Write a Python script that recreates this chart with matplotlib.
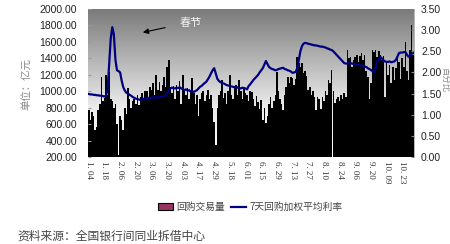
import matplotlib
matplotlib.use("Agg")
import matplotlib.pyplot as plt
import numpy as np
from matplotlib.patches import Patch
from matplotlib.lines import Line2D
from matplotlib.colors import LinearSegmentedColormap

# ---- data ----
tick_labels = ["1. 04", "1. 18", "2. 06", "2. 20", "3. 06", "3. 20", "4. 03", "4. 17", "4. 29",
               "5. 18", "6. 01", "6. 15", "6. 29", "7. 13", "7. 27", "8. 10", "8. 24", "9. 06",
               "9. 20", "10. 09", "10. 23"]

volume = [
    770, 650, 750, 700, 530, 560, 770, 850, 1170, 880,
    920, 1200, 950, 1230, 900, 880, 800, 850, 600, 220,
    700, 650, 530, 800, 720, 1040, 900, 800, 880, 900,
    850, 950, 830, 930, 980, 900, 1000, 1000, 930, 1050,
    1010, 1100, 950, 1200, 1020, 1110, 1000, 1080, 1170, 1050,
    1300, 1380, 1050, 980, 1060, 900, 1080, 1000, 1120, 850,
    1200, 1000, 950, 1040, 900, 1010, 1160, 980, 850, 950,
    700, 900, 980, 1000, 880, 950, 1020, 900, 960, 800,
    620, 350, 800, 950, 1000, 1140, 920, 980, 850, 1000,
    1200, 950, 900, 1050, 1080, 950, 1140, 1000, 900, 1050,
    980, 950, 880, 1000, 990, 900, 820, 940, 870, 780,
    890, 650, 800, 610, 700, 850, 930, 800, 880, 950,
    1230, 1000, 900, 850, 770, 950, 1050, 1170, 1100, 1170,
    1160, 1080, 1150, 1420, 1340, 1300, 1340, 1220, 1250, 1180,
    1015, 1050, 950, 1000, 930, 770, 930, 900, 780, 930,
    880, 1000, 950, 1140, 1100, 1260, 1000, 860, 900, 930,
    880, 950, 900, 980, 930, 1500, 1400, 1420, 1300, 1380,
    1420, 1440, 1350, 1430, 1465, 1380, 1440, 1250, 1170, 900,
    1100, 1500, 1480, 1500, 1420, 1490, 1440, 1380, 1430, 930,
    1340, 1200, 1320, 1100, 1290, 1140, 1280, 1400, 1350, 1150,
    1400, 1300, 1600, 1250, 1140, 1500, 1800, 1440,
]

rate = [
    1.49, 1.48, 1.48, 1.47, 1.47, 1.46, 1.46, 1.45, 1.45, 1.44,
    1.43, 1.45, 1.60, 2.20, 2.80, 3.07, 2.90, 2.30, 2.05, 2.03,
    2.00, 1.80, 1.65, 1.57, 1.52, 1.50, 1.47, 1.45, 1.42, 1.40,
    1.38, 1.37, 1.36, 1.35, 1.37, 1.38, 1.36, 1.38, 1.40, 1.39,
    1.41, 1.40, 1.42, 1.41, 1.40, 1.42, 1.43, 1.42, 1.44, 1.45,
    1.52, 1.58, 1.62, 1.64, 1.63, 1.62, 1.64, 1.63, 1.65, 1.62,
    1.60, 1.58, 1.60, 1.57, 1.58, 1.55, 1.55, 1.54, 1.56, 1.58,
    1.62, 1.66, 1.68, 1.72, 1.75, 1.78, 1.84, 1.90, 1.98, 2.05,
    2.10, 1.98, 1.85, 1.80, 1.77, 1.75, 1.74, 1.72, 1.70, 1.69,
    1.68, 1.67, 1.66, 1.65, 1.66, 1.64, 1.63, 1.62, 1.64, 1.63,
    1.62, 1.60, 1.68, 1.72, 1.77, 1.82, 1.86, 1.90, 1.94, 2.00,
    2.05, 2.10, 2.18, 2.27, 2.20, 2.13, 2.10, 2.08, 2.07, 2.05,
    2.06, 2.08, 2.09, 2.10, 2.11, 2.08, 2.07, 2.05, 2.04, 2.02,
    1.99, 2.00, 2.01, 2.10, 2.29, 2.50, 2.62, 2.68, 2.70, 2.69,
    2.68, 2.67, 2.66, 2.65, 2.64, 2.64, 2.63, 2.62, 2.61, 2.61,
    2.60, 2.59, 2.57, 2.56, 2.54, 2.53, 2.50, 2.46, 2.42, 2.38,
    2.34, 2.30, 2.26, 2.22, 2.21, 2.21, 2.22, 2.22, 2.21, 2.20,
    2.19, 2.18, 2.18, 2.17, 2.16, 2.15, 2.14, 2.13, 2.10, 2.08,
    2.06, 2.03, 2.01, 2.10, 2.25, 2.32, 2.37, 2.33, 2.29, 2.26,
    2.25, 2.25, 2.26, 2.24, 2.25, 2.26, 2.30, 2.38, 2.46, 2.47,
    2.47, 2.48, 2.48, 2.42, 2.37, 2.40, 2.44, 2.46,
]

left_ticks = [200, 400, 600, 800, 1000, 1200, 1400, 1600, 1800, 2000]
right_ticks = [0.0, 0.5, 1.0, 1.5, 2.0, 2.5, 3.0, 3.5]

# ---- figure ----
cjk = ["Noto Sans CJK SC", "DejaVu Sans"]
fig = plt.figure(figsize=(4.5, 2.44), dpi=100)
fig.patch.set_facecolor("white")
ax = fig.add_axes([88 / 450, 1 - 157 / 244, 326 / 450, 148 / 244])

n = len(volume)
x = np.arange(n)

# gradient background: dark grey at top -> white at bottom
cmap = LinearSegmentedColormap.from_list("g", ["#7a7a7a", "#b4b4b4", "#ececec", "#ffffff"])
grad = np.linspace(0, 1, 256).reshape(-1, 1)
ax.imshow(grad, extent=[0, 1, 0, 1], transform=ax.transAxes, cmap=cmap,
          aspect="auto", zorder=0, vmin=0, vmax=1, origin="upper")

ax.bar(x, np.array(volume) - 200, bottom=200, width=1.0, color="black",
       edgecolor="none", zorder=1)
ax.set_xlim(-0.5, n - 0.5)
ax.set_ylim(200, 2000)
ax.set_yticks(left_ticks)
ax.set_yticklabels([f"{v:.2f}" for v in left_ticks], family="Liberation Sans",
                   fontsize=7.5, color="#222222")
ax.set_xticks(np.arange(0, 10 * len(tick_labels), 10))
ax.set_xticklabels(tick_labels, rotation=270, family="Liberation Serif",
                   fontsize=6.5, color="#333333")
ax.tick_params(axis="x", length=0, pad=3)
ax.tick_params(axis="y", direction="in", length=2, pad=8, color="#999999")
for s in ["top", "bottom", "left", "right"]:
    ax.spines[s].set_visible(False)

ax2 = ax.twinx()
ax2.plot(x, rate, color="#000080", linewidth=1.6, zorder=3)
ax2.set_ylim(0, 3.5)
ax2.set_yticks(right_ticks)
ax2.set_yticklabels([f"{v:.2f}" for v in right_ticks], family="Liberation Sans",
                    fontsize=7.5, color="#222222")
ax2.tick_params(axis="y", direction="in", length=2, pad=5, color="#888888")
for s in ["top", "bottom", "left"]:
    ax2.spines[s].set_visible(False)
ax2.spines["right"].set_color("#aaaaaa")
ax2.spines["right"].set_linewidth(0.6)

# axis titles
fig.text(27 / 450, 1 - 84 / 244, "单位：亿元", rotation=90, ha="center", va="center",
         family=cjk, fontsize=7.5, color="#888888")
fig.text(445 / 450, 1 - 80 / 244, "百分比", rotation=270, ha="center", va="center",
         family=cjk, fontsize=6, color="#888888")

# annotation
ax.annotate("", xy=(0.160, 0.838), xytext=(0.245, 0.878), xycoords="axes fraction",
            textcoords="axes fraction",
            arrowprops=dict(arrowstyle="-|>", color="black", lw=0.8,
                            mutation_scale=8))
ax.text(0.316, 0.905, "春节", transform=ax.transAxes, ha="center", va="center",
        family=cjk, fontsize=8, color="#f4f4f4", zorder=5)

# legend
handles = [Patch(facecolor="#993366", edgecolor="black", linewidth=0.8),
           Line2D([0], [0], color="#000080", linewidth=1.6)]
leg = fig.legend(handles, ["回购交易量", "7天回购加权平均利率"], loc="center",
                 bbox_to_anchor=(250 / 450, 1 - 207 / 244), ncol=2, frameon=False,
                 prop={"family": cjk, "size": 7}, handlelength=1.6, handleheight=0.6,
                 handletextpad=0.3, columnspacing=0.6, borderpad=0)
for t in leg.get_texts():
    t.set_color("#444444")

# footnote
fig.text(17 / 450, 1 - 236 / 244, "资料来源：全国银行间同业拆借中心", ha="left", va="center",
         family=cjk, fontsize=8.5, color="#444444")

fig.savefig("out.png", dpi=100)
